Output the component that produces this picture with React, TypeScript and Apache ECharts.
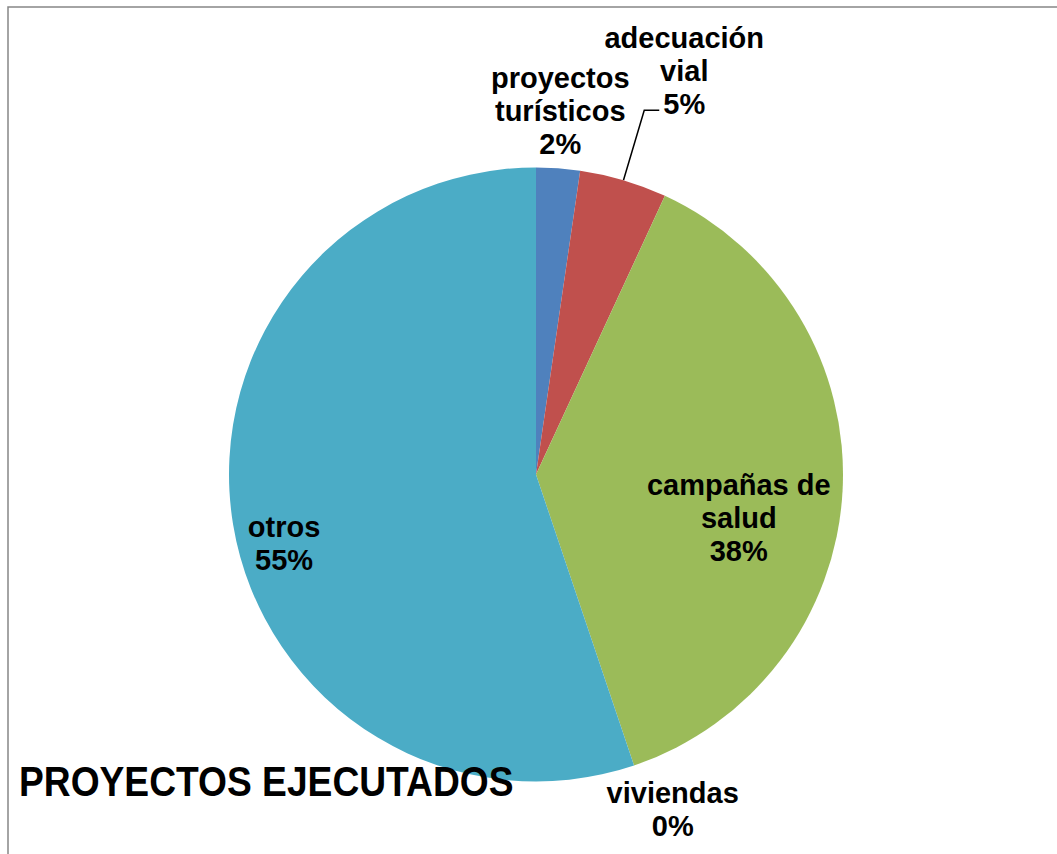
import React, { useEffect, useRef } from "react";
import * as echarts from "echarts";

// ---- data ----
const categories = ["proyectos turísticos", "adecuación vial", "campañas de salud", "viviendas", "otros"];
const values = [2, 4, 33, 0, 48];
const colors = ["#4F81BD", "#C0504D", "#9BBB59", "#8064A2", "#4BACC6"];
const titleText = "PROYECTOS EJECUTADOS";

// ---- label placement (style only) ----
const labelPlacement = [
  { position: "outside", lineShow: false, length: 57, length2: 0, distance: -2, padding: [0, 0, 0, 0] },
  { position: "outside", lineShow: true, length: 73, length2: 15, distance: 25, padding: [0, 0, 78, 0] },
  { position: "inside", lineShow: false, length: 0, length2: 0, distance: 0, padding: [70, 0, 0, 93] },
  { position: "outside", lineShow: false, length: 46, length2: 24, distance: 0, padding: [0, 0, 0, 0] },
  { position: "inside", lineShow: false, length: 0, length2: 0, distance: 0, padding: [88, 195, 0, 0] },
];

const LABEL_FONT = '"Liberation Sans", Arial, sans-serif';

function wrap(name: string, max = 11): string[] {
  const words = name.split(" ");
  const lines: string[] = [];
  let cur = "";
  for (const w of words) {
    if (!cur) cur = w;
    else if ((cur + " " + w).length <= max) cur = cur + " " + w;
    else {
      lines.push(cur);
      cur = w;
    }
  }
  if (cur) lines.push(cur);
  return lines;
}

export default function App() {
  const ref = useRef<HTMLDivElement>(null);
  useEffect(() => {
    if (!ref.current) return;
    const chart = echarts.init(ref.current, undefined, { renderer: "svg" });
    const option: any = {
      animation: false,
      backgroundColor: "#ffffff",
      graphic: [
        {
          type: "rect",
          z: 0,
          shape: { x: 8, y: 7, width: 1200, height: 1000 },
          style: { fill: "none", stroke: "#868686", lineWidth: 1.5 },
          silent: true,
        },
        {
          type: "text",
          z: 100,
          x: 19,
          y: 782,
          scaleX: 0.865,
          style: {
            text: titleText,
            fill: "#000",
            fontSize: 43,
            fontWeight: "bold",
            fontFamily: LABEL_FONT,
            align: "left",
            verticalAlign: "middle",
          },
          silent: true,
        },
      ],
      series: [
        {
          type: "pie",
          center: [536, 474.5],
          radius: 307,
          startAngle: 90,
          clockwise: true,
          percentPrecision: 0,
          avoidLabelOverlap: false,
          silent: true,
          emphasis: { disabled: true, scale: false },
          itemStyle: { borderWidth: 0 },
          label: {
            color: "#000",
            fontFamily: LABEL_FONT,
            fontWeight: "bold",
            fontSize: 29,
            lineHeight: 33,
            formatter: (p: any) =>
              [...wrap(p.name), p.percent + "%"].map((s) => "{t|" + s + "}").join("\n"),
            rich: {
              t: {
                color: "#000",
                fontFamily: LABEL_FONT,
                fontWeight: "bold",
                fontSize: 29,
                lineHeight: 33,
                align: "center",
              },
            },
          },
          labelLine: { lineStyle: { color: "#000", width: 1.5 } },
          labelLayout: () => ({ align: "center" }),
          data: categories.map((name, i) => {
            const lp = labelPlacement[i];
            return {
              name,
              value: values[i],
              itemStyle: { color: colors[i] },
              label: {
                position: lp.position,
                padding: lp.padding,
                distanceToLabelLine: lp.distance,
              },
              labelLine: { show: lp.lineShow, length: lp.length, length2: lp.length2 },
            };
          }),
        },
      ],
    };
    chart.setOption(option);
    return () => chart.dispose();
  }, []);
  return (
    <div
      ref={ref}
      style={{ position: "absolute", left: 0, top: 0, width: 1057, height: 854 }}
    />
  );
}
